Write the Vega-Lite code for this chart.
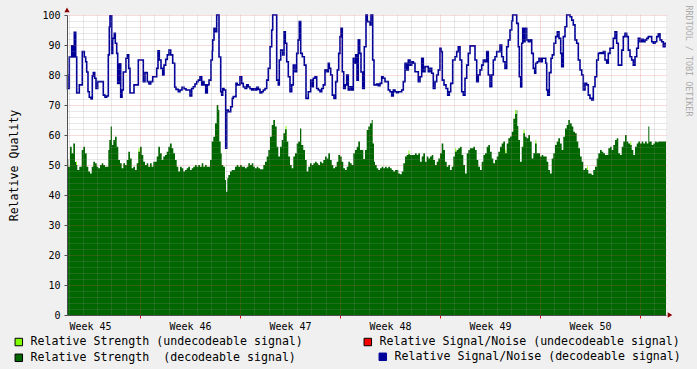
{
  "$schema": "https://vega.github.io/schema/vega-lite/v6.json",
  "width": 599,
  "height": 300,
  "autosize": {"type": "none"},
  "padding": {"left": 67, "top": 15, "right": 31, "bottom": 54},
  "background": "#f0f0f0",
  "config": {"view": {"fill": "white", "stroke": null}},
  "datasets": {
    "rsu": [
      {"week": 45.27, "strength": 0},
      {"week": 45.36, "strength": 51.2}, {"week": 45.37, "strength": 0},
      {"week": 45.985, "strength": 55.6}, {"week": 45.995, "strength": 0},
      {"week": 47.455, "strength": 63}, {"week": 47.465, "strength": 0},
      {"week": 48.685, "strength": 54.8}, {"week": 48.695, "strength": 0},
      {"week": 49.152, "strength": 55.6}, {"week": 49.162, "strength": 0},
      {"week": 49.652, "strength": 55.1}, {"week": 49.662, "strength": 0},
      {"week": 49.752, "strength": 68.3}, {"week": 49.762, "strength": 0},
      {"week": 49.835, "strength": 61.8}, {"week": 49.845, "strength": 0},
      {"week": 49.955, "strength": 58.4}, {"week": 49.963, "strength": 0},
      {"week": 50.47, "strength": 49.5}, {"week": 50.478, "strength": 0},
      {"week": 50.903, "strength": 57.9}, {"week": 50.912, "strength": 0},
      {"week": 51.26, "strength": 0}
    ],
    "rs": [
      {"week": 45.270, "strength": 51.9}, {"week": 45.283, "strength": 49.4}, {"week": 45.300, "strength": 56.1},
      {"week": 45.317, "strength": 53.9}, {"week": 45.333, "strength": 57.2}, {"week": 45.350, "strength": 51},
      {"week": 45.360, "strength": 50}, {"week": 45.373, "strength": 48.3}, {"week": 45.393, "strength": 49.4},
      {"week": 45.417, "strength": 55}, {"week": 45.433, "strength": 56.1}, {"week": 45.450, "strength": 53.9},
      {"week": 45.467, "strength": 49.4}, {"week": 45.483, "strength": 47.8}, {"week": 45.500, "strength": 47.2},
      {"week": 45.517, "strength": 49.4}, {"week": 45.533, "strength": 51.1}, {"week": 45.550, "strength": 50.6},
      {"week": 45.567, "strength": 49.4}, {"week": 45.583, "strength": 48.9}, {"week": 45.600, "strength": 50},
      {"week": 45.617, "strength": 50.6}, {"week": 45.633, "strength": 50}, {"week": 45.650, "strength": 49.4},
      {"week": 45.683, "strength": 55}, {"week": 45.693, "strength": 58.3}, {"week": 45.707, "strength": 62.8},
      {"week": 45.720, "strength": 56.7}, {"week": 45.733, "strength": 58.3}, {"week": 45.750, "strength": 59.4},
      {"week": 45.767, "strength": 56.1}, {"week": 45.783, "strength": 51.7}, {"week": 45.800, "strength": 50.6},
      {"week": 45.817, "strength": 48.9}, {"week": 45.833, "strength": 50.6}, {"week": 45.850, "strength": 50},
      {"week": 45.867, "strength": 51.7}, {"week": 45.883, "strength": 54.4}, {"week": 45.900, "strength": 52.2},
      {"week": 45.917, "strength": 48.9}, {"week": 45.933, "strength": 49.4}, {"week": 45.950, "strength": 48.3},
      {"week": 45.967, "strength": 50.6}, {"week": 45.983, "strength": 54.4}, {"week": 46.000, "strength": 56.1},
      {"week": 46.017, "strength": 53.3}, {"week": 46.033, "strength": 51.1}, {"week": 46.050, "strength": 50},
      {"week": 46.067, "strength": 50.6}, {"week": 46.083, "strength": 49.4}, {"week": 46.100, "strength": 50.6},
      {"week": 46.117, "strength": 49.4}, {"week": 46.133, "strength": 51.1}, {"week": 46.167, "strength": 52.8},
      {"week": 46.183, "strength": 56.1}, {"week": 46.200, "strength": 53.9}, {"week": 46.217, "strength": 51.7},
      {"week": 46.233, "strength": 52.8}, {"week": 46.250, "strength": 53.3}, {"week": 46.267, "strength": 54.4},
      {"week": 46.283, "strength": 56.1}, {"week": 46.300, "strength": 57.2}, {"week": 46.317, "strength": 55.6},
      {"week": 46.333, "strength": 53.9}, {"week": 46.350, "strength": 51.7}, {"week": 46.367, "strength": 49.4},
      {"week": 46.383, "strength": 47.8}, {"week": 46.400, "strength": 49.4}, {"week": 46.417, "strength": 48.9},
      {"week": 46.433, "strength": 47.8}, {"week": 46.450, "strength": 48.3}, {"week": 46.467, "strength": 48.9},
      {"week": 46.483, "strength": 49.4}, {"week": 46.500, "strength": 48.3}, {"week": 46.517, "strength": 48.9},
      {"week": 46.533, "strength": 49.4}, {"week": 46.550, "strength": 50}, {"week": 46.567, "strength": 49.4},
      {"week": 46.583, "strength": 50}, {"week": 46.600, "strength": 49.4}, {"week": 46.617, "strength": 50.6},
      {"week": 46.633, "strength": 49.4}, {"week": 46.650, "strength": 50}, {"week": 46.667, "strength": 49.4},
      {"week": 46.700, "strength": 51.7}, {"week": 46.717, "strength": 57.8}, {"week": 46.733, "strength": 59.4},
      {"week": 46.750, "strength": 63.9}, {"week": 46.767, "strength": 70}, {"week": 46.783, "strength": 68.3},
      {"week": 46.793, "strength": 57.8}, {"week": 46.807, "strength": 53.9}, {"week": 46.817, "strength": 50},
      {"week": 46.833, "strength": 49.4}, {"week": 46.850, "strength": 45}, {"week": 46.860, "strength": 41.1},
      {"week": 46.873, "strength": 45.6}, {"week": 46.883, "strength": 46.7}, {"week": 46.900, "strength": 47.8},
      {"week": 46.917, "strength": 48.3}, {"week": 46.950, "strength": 49.4}, {"week": 46.967, "strength": 50},
      {"week": 46.983, "strength": 49.4}, {"week": 47.000, "strength": 50}, {"week": 47.017, "strength": 49.4},
      {"week": 47.050, "strength": 48.9}, {"week": 47.067, "strength": 49.4}, {"week": 47.083, "strength": 50.6},
      {"week": 47.100, "strength": 50}, {"week": 47.117, "strength": 50.6}, {"week": 47.133, "strength": 49.4},
      {"week": 47.150, "strength": 48.9}, {"week": 47.167, "strength": 49.4}, {"week": 47.183, "strength": 48.9},
      {"week": 47.200, "strength": 48.6}, {"week": 47.233, "strength": 50}, {"week": 47.250, "strength": 51.1},
      {"week": 47.267, "strength": 52.8}, {"week": 47.283, "strength": 55}, {"week": 47.300, "strength": 59.4},
      {"week": 47.317, "strength": 63.3}, {"week": 47.333, "strength": 65}, {"week": 47.350, "strength": 62.8},
      {"week": 47.367, "strength": 56.1}, {"week": 47.383, "strength": 52.8}, {"week": 47.400, "strength": 56.1},
      {"week": 47.417, "strength": 58.3}, {"week": 47.433, "strength": 60.6}, {"week": 47.450, "strength": 61.9},
      {"week": 47.467, "strength": 57.8}, {"week": 47.483, "strength": 52.8}, {"week": 47.500, "strength": 50},
      {"week": 47.517, "strength": 48.9}, {"week": 47.533, "strength": 52.8}, {"week": 47.550, "strength": 53.9},
      {"week": 47.567, "strength": 57.2}, {"week": 47.583, "strength": 57.8}, {"week": 47.600, "strength": 62.2},
      {"week": 47.613, "strength": 56.7}, {"week": 47.633, "strength": 55}, {"week": 47.650, "strength": 51.7},
      {"week": 47.667, "strength": 47.8}, {"week": 47.683, "strength": 49.4}, {"week": 47.700, "strength": 50.6},
      {"week": 47.717, "strength": 50}, {"week": 47.733, "strength": 50.6}, {"week": 47.750, "strength": 51.1},
      {"week": 47.767, "strength": 50.6}, {"week": 47.783, "strength": 50}, {"week": 47.800, "strength": 51.1},
      {"week": 47.817, "strength": 50.6}, {"week": 47.833, "strength": 51.7}, {"week": 47.850, "strength": 52.8},
      {"week": 47.867, "strength": 52.2}, {"week": 47.883, "strength": 53.9}, {"week": 47.900, "strength": 51.7},
      {"week": 47.917, "strength": 50}, {"week": 47.933, "strength": 48.9}, {"week": 47.950, "strength": 49.4},
      {"week": 47.967, "strength": 51.1}, {"week": 47.983, "strength": 53.3}, {"week": 48.000, "strength": 52.8},
      {"week": 48.017, "strength": 51.1}, {"week": 48.033, "strength": 48.9}, {"week": 48.050, "strength": 48.3},
      {"week": 48.067, "strength": 49.4}, {"week": 48.083, "strength": 51.1}, {"week": 48.100, "strength": 50.6},
      {"week": 48.117, "strength": 50}, {"week": 48.133, "strength": 53.9}, {"week": 48.150, "strength": 55},
      {"week": 48.167, "strength": 56.1}, {"week": 48.183, "strength": 57.8}, {"week": 48.200, "strength": 55},
      {"week": 48.217, "strength": 55}, {"week": 48.233, "strength": 52}, {"week": 48.250, "strength": 55},
      {"week": 48.267, "strength": 61.7}, {"week": 48.283, "strength": 62.8}, {"week": 48.300, "strength": 63.9},
      {"week": 48.317, "strength": 65}, {"week": 48.327, "strength": 57.2}, {"week": 48.340, "strength": 51.1},
      {"week": 48.350, "strength": 50}, {"week": 48.367, "strength": 48.9}, {"week": 48.383, "strength": 48.3},
      {"week": 48.400, "strength": 48.9}, {"week": 48.417, "strength": 49.4}, {"week": 48.433, "strength": 48.9},
      {"week": 48.450, "strength": 49.4}, {"week": 48.467, "strength": 48.9}, {"week": 48.483, "strength": 49.4},
      {"week": 48.500, "strength": 48.9}, {"week": 48.517, "strength": 48.3}, {"week": 48.533, "strength": 47.8},
      {"week": 48.550, "strength": 48.3}, {"week": 48.583, "strength": 47.2}, {"week": 48.600, "strength": 46.9},
      {"week": 48.617, "strength": 47.8}, {"week": 48.633, "strength": 50.6}, {"week": 48.650, "strength": 52.8},
      {"week": 48.667, "strength": 53.3}, {"week": 48.683, "strength": 53.6}, {"week": 48.700, "strength": 53.3},
      {"week": 48.750, "strength": 53.9}, {"week": 48.767, "strength": 53.3}, {"week": 48.783, "strength": 53.9},
      {"week": 48.800, "strength": 51.1}, {"week": 48.817, "strength": 52.8}, {"week": 48.833, "strength": 53.9},
      {"week": 48.850, "strength": 51.1}, {"week": 48.867, "strength": 52.8}, {"week": 48.883, "strength": 52.2},
      {"week": 48.900, "strength": 52.8}, {"week": 48.917, "strength": 53.3}, {"week": 48.933, "strength": 51.7},
      {"week": 48.950, "strength": 50}, {"week": 48.967, "strength": 51.1}, {"week": 48.983, "strength": 52.2},
      {"week": 49.000, "strength": 53.9}, {"week": 49.017, "strength": 57.2}, {"week": 49.033, "strength": 55},
      {"week": 49.050, "strength": 51.1}, {"week": 49.067, "strength": 49.4}, {"week": 49.083, "strength": 50},
      {"week": 49.100, "strength": 48.3}, {"week": 49.117, "strength": 49.4}, {"week": 49.133, "strength": 52.8},
      {"week": 49.150, "strength": 54.4}, {"week": 49.167, "strength": 55}, {"week": 49.183, "strength": 55.6},
      {"week": 49.200, "strength": 56.1}, {"week": 49.217, "strength": 53.3}, {"week": 49.233, "strength": 50},
      {"week": 49.250, "strength": 47.2}, {"week": 49.267, "strength": 53.9}, {"week": 49.283, "strength": 55},
      {"week": 49.300, "strength": 55.6}, {"week": 49.333, "strength": 56.1}, {"week": 49.350, "strength": 55},
      {"week": 49.367, "strength": 51.7}, {"week": 49.383, "strength": 49.4}, {"week": 49.400, "strength": 48.3},
      {"week": 49.417, "strength": 51.1}, {"week": 49.433, "strength": 53.3}, {"week": 49.450, "strength": 53.9},
      {"week": 49.467, "strength": 56.1}, {"week": 49.483, "strength": 56.7}, {"week": 49.500, "strength": 54.4},
      {"week": 49.517, "strength": 52.2}, {"week": 49.533, "strength": 50.6}, {"week": 49.550, "strength": 51.7},
      {"week": 49.567, "strength": 52.8}, {"week": 49.583, "strength": 54.4}, {"week": 49.600, "strength": 56.1},
      {"week": 49.617, "strength": 57.2}, {"week": 49.633, "strength": 57.8}, {"week": 49.650, "strength": 53.9},
      {"week": 49.667, "strength": 57.2}, {"week": 49.683, "strength": 58.9}, {"week": 49.700, "strength": 59.5},
      {"week": 49.717, "strength": 61.1}, {"week": 49.733, "strength": 65.4}, {"week": 49.750, "strength": 67},
      {"week": 49.767, "strength": 68.3}, {"week": 49.773, "strength": 63}, {"week": 49.783, "strength": 58.3},
      {"week": 49.800, "strength": 51.1}, {"week": 49.817, "strength": 56.1}, {"week": 49.833, "strength": 60.6},
      {"week": 49.850, "strength": 59.4}, {"week": 49.867, "strength": 58.9}, {"week": 49.883, "strength": 60},
      {"week": 49.900, "strength": 57.8}, {"week": 49.917, "strength": 52.2}, {"week": 49.933, "strength": 53.9},
      {"week": 49.950, "strength": 57.2}, {"week": 49.967, "strength": 53.9}, {"week": 50.000, "strength": 52.8},
      {"week": 50.017, "strength": 53.3}, {"week": 50.033, "strength": 52.8}, {"week": 50.067, "strength": 51.1},
      {"week": 50.083, "strength": 48.3}, {"week": 50.100, "strength": 47.2}, {"week": 50.117, "strength": 52.2},
      {"week": 50.133, "strength": 53.9}, {"week": 50.150, "strength": 56.7}, {"week": 50.167, "strength": 57.8},
      {"week": 50.183, "strength": 58.9}, {"week": 50.200, "strength": 57.2}, {"week": 50.217, "strength": 55},
      {"week": 50.233, "strength": 59.4}, {"week": 50.250, "strength": 62.2}, {"week": 50.267, "strength": 63.3},
      {"week": 50.283, "strength": 65}, {"week": 50.300, "strength": 63.9}, {"week": 50.317, "strength": 62.8},
      {"week": 50.333, "strength": 61.1}, {"week": 50.350, "strength": 60.6}, {"week": 50.367, "strength": 57.8},
      {"week": 50.383, "strength": 55.6}, {"week": 50.400, "strength": 52.8}, {"week": 50.417, "strength": 51.1},
      {"week": 50.433, "strength": 48.3}, {"week": 50.450, "strength": 48.9}, {"week": 50.467, "strength": 48.3},
      {"week": 50.483, "strength": 47.2}, {"week": 50.517, "strength": 46.7}, {"week": 50.533, "strength": 48.3},
      {"week": 50.550, "strength": 49.4}, {"week": 50.567, "strength": 52.2}, {"week": 50.583, "strength": 53.9},
      {"week": 50.600, "strength": 55}, {"week": 50.617, "strength": 54.4}, {"week": 50.633, "strength": 53.9},
      {"week": 50.650, "strength": 53.3}, {"week": 50.683, "strength": 55.6}, {"week": 50.700, "strength": 56.1},
      {"week": 50.717, "strength": 55}, {"week": 50.733, "strength": 56.7}, {"week": 50.750, "strength": 58.3},
      {"week": 50.767, "strength": 58.9}, {"week": 50.783, "strength": 53.9}, {"week": 50.800, "strength": 53.3},
      {"week": 50.817, "strength": 56.1}, {"week": 50.833, "strength": 57.8}, {"week": 50.850, "strength": 60},
      {"week": 50.867, "strength": 57.8}, {"week": 50.883, "strength": 57.2}, {"week": 50.900, "strength": 56.7},
      {"week": 50.917, "strength": 55}, {"week": 50.933, "strength": 53.3}, {"week": 50.950, "strength": 56.1},
      {"week": 50.967, "strength": 57.2}, {"week": 50.983, "strength": 57.8}, {"week": 51.000, "strength": 57.2},
      {"week": 51.017, "strength": 57.8}, {"week": 51.033, "strength": 57.2}, {"week": 51.050, "strength": 57.8},
      {"week": 51.067, "strength": 57.2}, {"week": 51.083, "strength": 62.8}, {"week": 51.093, "strength": 57.8},
      {"week": 51.117, "strength": 56.7}, {"week": 51.133, "strength": 57.2}, {"week": 51.150, "strength": 57.8},
      {"week": 51.167, "strength": 57.6}, {"week": 51.183, "strength": 57.8}, {"week": 51.260, "strength": 57.6}
    ],
    "sn": [
      {"week": 45.270, "snr": 80}, {"week": 45.275, "snr": 75.5}, {"week": 45.293, "snr": 86},
      {"week": 45.317, "snr": 89.7}, {"week": 45.327, "snr": 86}, {"week": 45.343, "snr": 94.2},
      {"week": 45.357, "snr": 86}, {"week": 45.367, "snr": 74}, {"week": 45.393, "snr": 76.7},
      {"week": 45.423, "snr": 87.8}, {"week": 45.443, "snr": 86}, {"week": 45.457, "snr": 84.4},
      {"week": 45.467, "snr": 81}, {"week": 45.480, "snr": 74.4}, {"week": 45.493, "snr": 72.6},
      {"week": 45.510, "snr": 72}, {"week": 45.523, "snr": 79.7}, {"week": 45.533, "snr": 80.8},
      {"week": 45.547, "snr": 78.9}, {"week": 45.560, "snr": 75.5}, {"week": 45.577, "snr": 77.8},
      {"week": 45.633, "snr": 73.3}, {"week": 45.650, "snr": 72.6}, {"week": 45.667, "snr": 73},
      {"week": 45.683, "snr": 86.7}, {"week": 45.693, "snr": 96}, {"week": 45.700, "snr": 99.7},
      {"week": 45.717, "snr": 87.2}, {"week": 45.727, "snr": 92.2}, {"week": 45.743, "snr": 93.9},
      {"week": 45.753, "snr": 90.6}, {"week": 45.767, "snr": 87.2}, {"week": 45.777, "snr": 77.2},
      {"week": 45.793, "snr": 83.7}, {"week": 45.807, "snr": 72.6}, {"week": 45.820, "snr": 75},
      {"week": 45.833, "snr": 81}, {"week": 45.860, "snr": 85.6}, {"week": 45.873, "snr": 86.7},
      {"week": 45.887, "snr": 82.2}, {"week": 45.900, "snr": 74}, {"week": 45.940, "snr": 76.7},
      {"week": 45.983, "snr": 85}, {"week": 46.033, "snr": 77.8}, {"week": 46.050, "snr": 80.8},
      {"week": 46.073, "snr": 77.8}, {"week": 46.090, "snr": 77}, {"week": 46.107, "snr": 77.8},
      {"week": 46.127, "snr": 79.4}, {"week": 46.167, "snr": 82.2}, {"week": 46.180, "snr": 88.1},
      {"week": 46.193, "snr": 85}, {"week": 46.210, "snr": 82.2}, {"week": 46.227, "snr": 80},
      {"week": 46.240, "snr": 83.3}, {"week": 46.257, "snr": 85.2}, {"week": 46.273, "snr": 86.7},
      {"week": 46.290, "snr": 88.3}, {"week": 46.307, "snr": 86.7}, {"week": 46.327, "snr": 83.9},
      {"week": 46.347, "snr": 75.9}, {"week": 46.360, "snr": 75.2}, {"week": 46.383, "snr": 74.4},
      {"week": 46.400, "snr": 75}, {"week": 46.420, "snr": 75.9}, {"week": 46.440, "snr": 75.4},
      {"week": 46.460, "snr": 75}, {"week": 46.500, "snr": 73}, {"week": 46.517, "snr": 75.5},
      {"week": 46.533, "snr": 76.1}, {"week": 46.550, "snr": 77}, {"week": 46.567, "snr": 77.8},
      {"week": 46.583, "snr": 78.3}, {"week": 46.600, "snr": 79.4}, {"week": 46.617, "snr": 76.7},
      {"week": 46.627, "snr": 77.8}, {"week": 46.640, "snr": 76.7}, {"week": 46.657, "snr": 74},
      {"week": 46.673, "snr": 76.7}, {"week": 46.690, "snr": 78.3}, {"week": 46.710, "snr": 85},
      {"week": 46.723, "snr": 88}, {"week": 46.727, "snr": 91.7}, {"week": 46.740, "snr": 95.6},
      {"week": 46.750, "snr": 94.4}, {"week": 46.767, "snr": 100}, {"week": 46.790, "snr": 86},
      {"week": 46.807, "snr": 74.4}, {"week": 46.817, "snr": 73.3}, {"week": 46.827, "snr": 75.5},
      {"week": 46.840, "snr": 75}, {"week": 46.857, "snr": 55.6}, {"week": 46.867, "snr": 68.3},
      {"week": 46.883, "snr": 67.8}, {"week": 46.907, "snr": 69.4}, {"week": 46.923, "snr": 72.2},
      {"week": 46.933, "snr": 72.8}, {"week": 46.960, "snr": 77.2}, {"week": 46.973, "snr": 76.7},
      {"week": 47.000, "snr": 79.4}, {"week": 47.017, "snr": 77.2}, {"week": 47.033, "snr": 76},
      {"week": 47.050, "snr": 75.5}, {"week": 47.067, "snr": 76.7}, {"week": 47.083, "snr": 76},
      {"week": 47.100, "snr": 75.4}, {"week": 47.117, "snr": 75}, {"week": 47.133, "snr": 75.4},
      {"week": 47.150, "snr": 75}, {"week": 47.167, "snr": 75.9}, {"week": 47.183, "snr": 75.2},
      {"week": 47.200, "snr": 74}, {"week": 47.217, "snr": 74.4}, {"week": 47.233, "snr": 75},
      {"week": 47.250, "snr": 75.5}, {"week": 47.267, "snr": 78.3}, {"week": 47.283, "snr": 82.2},
      {"week": 47.300, "snr": 89.4}, {"week": 47.317, "snr": 95}, {"week": 47.327, "snr": 100},
      {"week": 47.367, "snr": 78.3}, {"week": 47.383, "snr": 76.7}, {"week": 47.393, "snr": 85},
      {"week": 47.407, "snr": 88.3}, {"week": 47.427, "snr": 86.7}, {"week": 47.440, "snr": 94.4},
      {"week": 47.453, "snr": 90.6}, {"week": 47.467, "snr": 84.4}, {"week": 47.483, "snr": 79.4},
      {"week": 47.500, "snr": 74.4}, {"week": 47.517, "snr": 76.7}, {"week": 47.533, "snr": 83.3},
      {"week": 47.550, "snr": 81.1}, {"week": 47.567, "snr": 87.2}, {"week": 47.580, "snr": 91.7},
      {"week": 47.593, "snr": 97.8}, {"week": 47.607, "snr": 87.2}, {"week": 47.623, "snr": 86.1},
      {"week": 47.643, "snr": 83.3}, {"week": 47.660, "snr": 72.2}, {"week": 47.683, "snr": 74.4},
      {"week": 47.707, "snr": 78.3}, {"week": 47.720, "snr": 76.1}, {"week": 47.733, "snr": 78.9},
      {"week": 47.750, "snr": 79.4}, {"week": 47.767, "snr": 75.5}, {"week": 47.783, "snr": 75},
      {"week": 47.800, "snr": 74.4}, {"week": 47.817, "snr": 75.5}, {"week": 47.833, "snr": 76.7},
      {"week": 47.850, "snr": 81.7}, {"week": 47.867, "snr": 81.1}, {"week": 47.883, "snr": 83.9},
      {"week": 47.893, "snr": 82.2}, {"week": 47.907, "snr": 80}, {"week": 47.923, "snr": 73.3},
      {"week": 47.940, "snr": 72.2}, {"week": 47.957, "snr": 77.8}, {"week": 47.973, "snr": 81.7},
      {"week": 47.987, "snr": 87.2}, {"week": 48.000, "snr": 92.8}, {"week": 48.010, "snr": 95.6},
      {"week": 48.023, "snr": 81.1}, {"week": 48.037, "snr": 75.5}, {"week": 48.053, "snr": 76.7},
      {"week": 48.067, "snr": 80}, {"week": 48.083, "snr": 75}, {"week": 48.100, "snr": 76.1},
      {"week": 48.117, "snr": 75}, {"week": 48.133, "snr": 85.6}, {"week": 48.147, "snr": 83.9},
      {"week": 48.157, "snr": 86.7}, {"week": 48.170, "snr": 78.3}, {"week": 48.183, "snr": 91.7},
      {"week": 48.197, "snr": 87.2}, {"week": 48.210, "snr": 81}, {"week": 48.227, "snr": 75.5},
      {"week": 48.243, "snr": 89.4}, {"week": 48.260, "snr": 100}, {"week": 48.273, "snr": 97.8},
      {"week": 48.300, "snr": 96.7}, {"week": 48.310, "snr": 100}, {"week": 48.327, "snr": 85},
      {"week": 48.340, "snr": 76.7}, {"week": 48.367, "snr": 77}, {"week": 48.383, "snr": 76.4},
      {"week": 48.400, "snr": 77.2}, {"week": 48.417, "snr": 79.4}, {"week": 48.433, "snr": 78.9},
      {"week": 48.450, "snr": 77.8}, {"week": 48.483, "snr": 75}, {"week": 48.500, "snr": 74.4},
      {"week": 48.517, "snr": 73}, {"week": 48.533, "snr": 75}, {"week": 48.550, "snr": 74.4},
      {"week": 48.567, "snr": 74.1}, {"week": 48.583, "snr": 74.4}, {"week": 48.617, "snr": 75},
      {"week": 48.633, "snr": 77.8}, {"week": 48.650, "snr": 83.9}, {"week": 48.667, "snr": 81.7},
      {"week": 48.683, "snr": 85}, {"week": 48.700, "snr": 83.3}, {"week": 48.717, "snr": 84.4},
      {"week": 48.733, "snr": 83.9}, {"week": 48.750, "snr": 81.1}, {"week": 48.783, "snr": 77.8},
      {"week": 48.800, "snr": 79.4}, {"week": 48.817, "snr": 85.6}, {"week": 48.833, "snr": 81.1},
      {"week": 48.850, "snr": 82.8}, {"week": 48.883, "snr": 81.1}, {"week": 48.900, "snr": 82.2},
      {"week": 48.917, "snr": 80.6}, {"week": 48.933, "snr": 75.5}, {"week": 48.950, "snr": 77.8},
      {"week": 48.967, "snr": 80}, {"week": 48.983, "snr": 81.7}, {"week": 49.000, "snr": 88.9},
      {"week": 49.010, "snr": 87.8}, {"week": 49.023, "snr": 78.3}, {"week": 49.040, "snr": 76.7},
      {"week": 49.060, "snr": 75.5}, {"week": 49.077, "snr": 73.3}, {"week": 49.093, "snr": 74.4},
      {"week": 49.107, "snr": 77.2}, {"week": 49.127, "snr": 85}, {"week": 49.150, "snr": 86.1},
      {"week": 49.167, "snr": 87.8}, {"week": 49.183, "snr": 89.4}, {"week": 49.200, "snr": 85},
      {"week": 49.217, "snr": 74.4}, {"week": 49.233, "snr": 73.3}, {"week": 49.250, "snr": 78.9},
      {"week": 49.267, "snr": 83.3}, {"week": 49.283, "snr": 87.2}, {"week": 49.300, "snr": 89.7},
      {"week": 49.350, "snr": 85}, {"week": 49.367, "snr": 77.8}, {"week": 49.383, "snr": 80},
      {"week": 49.400, "snr": 81.7}, {"week": 49.417, "snr": 83.3}, {"week": 49.433, "snr": 85},
      {"week": 49.450, "snr": 84.4}, {"week": 49.467, "snr": 87.8}, {"week": 49.483, "snr": 80},
      {"week": 49.500, "snr": 76.1}, {"week": 49.517, "snr": 80}, {"week": 49.533, "snr": 85},
      {"week": 49.550, "snr": 86.1}, {"week": 49.567, "snr": 87.8}, {"week": 49.600, "snr": 90},
      {"week": 49.617, "snr": 86.1}, {"week": 49.633, "snr": 84.4}, {"week": 49.650, "snr": 82.2},
      {"week": 49.667, "snr": 89.4}, {"week": 49.683, "snr": 91.7}, {"week": 49.700, "snr": 95},
      {"week": 49.717, "snr": 98}, {"week": 49.727, "snr": 100}, {"week": 49.767, "snr": 97.2},
      {"week": 49.783, "snr": 89.4}, {"week": 49.793, "snr": 79.4}, {"week": 49.807, "snr": 76},
      {"week": 49.817, "snr": 90.6}, {"week": 49.827, "snr": 95.6}, {"week": 49.840, "snr": 91.1},
      {"week": 49.850, "snr": 95.6}, {"week": 49.867, "snr": 91.7}, {"week": 49.883, "snr": 91.1},
      {"week": 49.900, "snr": 91.7}, {"week": 49.917, "snr": 87.2}, {"week": 49.933, "snr": 82.2},
      {"week": 49.947, "snr": 80.6}, {"week": 49.957, "snr": 83.9}, {"week": 49.973, "snr": 84.4},
      {"week": 49.990, "snr": 85.6}, {"week": 50.007, "snr": 84.4}, {"week": 50.023, "snr": 85.6},
      {"week": 50.057, "snr": 83.9}, {"week": 50.067, "snr": 75}, {"week": 50.077, "snr": 73.3},
      {"week": 50.093, "snr": 80.8}, {"week": 50.110, "snr": 85.6}, {"week": 50.123, "snr": 86.7},
      {"week": 50.140, "snr": 90.6}, {"week": 50.157, "snr": 92.8}, {"week": 50.173, "snr": 94.4},
      {"week": 50.190, "snr": 92.2}, {"week": 50.207, "snr": 87.2}, {"week": 50.217, "snr": 82.8},
      {"week": 50.233, "snr": 92.8}, {"week": 50.250, "snr": 96.1}, {"week": 50.267, "snr": 100},
      {"week": 50.300, "snr": 99.4}, {"week": 50.317, "snr": 98.3}, {"week": 50.333, "snr": 96.7},
      {"week": 50.350, "snr": 91.7}, {"week": 50.367, "snr": 90.6}, {"week": 50.383, "snr": 85},
      {"week": 50.400, "snr": 81.7}, {"week": 50.417, "snr": 80}, {"week": 50.433, "snr": 75},
      {"week": 50.450, "snr": 77.2}, {"week": 50.467, "snr": 76.7}, {"week": 50.483, "snr": 73.3},
      {"week": 50.500, "snr": 72.2}, {"week": 50.517, "snr": 71.7}, {"week": 50.533, "snr": 76.1},
      {"week": 50.550, "snr": 79.4}, {"week": 50.567, "snr": 85}, {"week": 50.583, "snr": 87.2},
      {"week": 50.600, "snr": 87.4}, {"week": 50.617, "snr": 87.2}, {"week": 50.633, "snr": 87.8},
      {"week": 50.650, "snr": 85}, {"week": 50.667, "snr": 83.9}, {"week": 50.683, "snr": 87.2},
      {"week": 50.700, "snr": 88.9}, {"week": 50.733, "snr": 92.2}, {"week": 50.750, "snr": 94.4},
      {"week": 50.767, "snr": 90.6}, {"week": 50.783, "snr": 83.3}, {"week": 50.817, "snr": 88.3},
      {"week": 50.833, "snr": 92.8}, {"week": 50.850, "snr": 93.9}, {"week": 50.867, "snr": 92.8},
      {"week": 50.883, "snr": 88.3}, {"week": 50.900, "snr": 86.1}, {"week": 50.917, "snr": 85},
      {"week": 50.933, "snr": 83.3}, {"week": 50.950, "snr": 86.1}, {"week": 50.967, "snr": 88.9},
      {"week": 50.983, "snr": 92.2}, {"week": 51.000, "snr": 91.1}, {"week": 51.017, "snr": 91.9},
      {"week": 51.033, "snr": 91.1}, {"week": 51.050, "snr": 91.7}, {"week": 51.067, "snr": 92.2},
      {"week": 51.083, "snr": 92.8}, {"week": 51.117, "snr": 91.1}, {"week": 51.133, "snr": 90.6},
      {"week": 51.150, "snr": 91.1}, {"week": 51.167, "snr": 92.8}, {"week": 51.183, "snr": 93.7},
      {"week": 51.200, "snr": 91.7}, {"week": 51.217, "snr": 91.1}, {"week": 51.233, "snr": 89.4},
      {"week": 51.250, "snr": 90.6}, {"week": 51.260, "snr": 90.6}
    ]
  },
  "resolve": {"axis": {"x": "independent", "y": "independent"}, "legend": {"color": "independent"}},
  "layer": [
    {
      "data": {"name": "rsu"},
      "mark": {"type": "area", "interpolate": "step-after", "opacity": 1},
      "encoding": {
        "x": {"field": "week", "type": "quantitative", "scale": {"domain": [45.27, 51.26], "nice": false, "zero": false}, "axis": null},
        "y": {"field": "strength", "type": "quantitative", "scale": {"domain": [0, 100], "nice": false},
          "axis": {"orient": "right", "title": "RRDTOOL / TOBI OETIKER", "labels": false, "ticks": false, "domain": false, "grid": false,
            "titleFont": "DejaVu Sans Mono", "titleFontSize": 8.4, "titleFontWeight": "normal", "titleColor": "#ababab",
            "titleAngle": 90, "titleX": 22, "titleY": -10, "titleAlign": "left", "titleBaseline": "middle"}},
        "color": {"datum": "Relative Strength (undecodeable signal)", "type": "nominal",
          "scale": {"domain": ["Relative Strength (undecodeable signal)", "Relative Strength \u00a0(decodeable signal)", "Relative Signal/Noise (undecodeable signal)"],
                    "range": ["#80ff00", "#006600", "#ff0000"]},
          "legend": {
            "title": null, "orient": "none", "legendX": -54, "legendY": 321, "columns": 2,
            "symbolType": "square", "symbolSize": 56, "symbolStrokeColor": "#000000", "symbolStrokeWidth": 1, "symbolOpacity": 1,
            "labelFont": "DejaVu Sans Mono", "labelFontSize": 11.6, "labelColor": "#000000", "labelLimit": 0, "labelOffset": 6,
            "columnPadding": 59, "rowPadding": 3, "padding": 0,
            "encode": {"symbols": {"update": {"stroke": {"value": "#000000"}, "strokeWidth": {"value": 1}, "opacity": {"value": 1}}}}
          }}
      }
    },
    {
      "data": {"name": "rs"},
      "mark": {"type": "area", "interpolate": "step-after", "opacity": 1},
      "encoding": {
        "x": {"field": "week", "type": "quantitative", "scale": {"domain": [45.27, 51.26], "nice": false, "zero": false},
          "axis": {
            "values": [45.2857, 45.4286, 45.5, 45.5714, 45.7143, 45.8571, 46, 46.1429, 46.2857, 46.4286, 46.5, 46.5714, 46.7143, 46.8571, 47, 47.1429, 47.2857, 47.4286, 47.5, 47.5714, 47.7143, 47.8571, 48, 48.1429, 48.2857, 48.4286, 48.5, 48.5714, 48.7143, 48.8571, 49, 49.1429, 49.2857, 49.4286, 49.5, 49.5714, 49.7143, 49.8571, 50, 50.1429, 50.2857, 50.4286, 50.5, 50.5714, 50.7143, 50.8571, 51, 51.1429],
            "labelExpr": "abs(datum.value % 1 - 0.5) < 0.001 ? 'Week ' + floor(datum.value) : ''",
            "labelFont": "DejaVu Sans Mono", "labelFontSize": 10, "labelColor": "#000000",
            "labelPadding": 3, "labelOverlap": false, "labelFlush": false, "labelBound": false,
            "tickSize": 3,
            "tickColor": {"condition": {"test": "datum.value % 1 == 0", "value": "#de0000"}, "value": "#8f8f8f"},
            "tickOpacity": {"condition": {"test": "datum.value % 1 == 0", "value": 1}, "value": 0},
            "grid": true,
            "gridColor": {"condition": {"test": "datum.value % 1 == 0", "value": "#e05050"}, "value": "#8f8f8f"},
            "gridOpacity": {"condition": {"test": "abs(datum.value % 1 - 0.5) < 0.001", "value": 0}, "value": 0.42},
            "gridDash": [1, 1],
            "domainColor": "#505050",
            "title": null,
            "zindex": 1
          }},
        "y": {"field": "strength", "type": "quantitative", "scale": {"domain": [0, 100], "nice": false},
          "axis": {
            "values": [0, 2, 4, 6, 8, 10, 12, 14, 16, 18, 20, 22, 24, 26, 28, 30, 32, 34, 36, 38, 40, 42, 44, 46, 48, 50, 52, 54, 56, 58, 60, 62, 64, 66, 68, 70, 72, 74, 76, 78, 80, 82, 84, 86, 88, 90, 92, 94, 96, 98, 100],
            "labelExpr": "datum.value % 10 == 0 ? '' + datum.value : ''",
            "labelFont": "DejaVu Sans Mono", "labelFontSize": 10, "labelColor": "#000000",
            "labelPadding": 4, "labelOverlap": false, "labelFlush": false, "labelBound": false,
            "tickSize": 3, "tickColor": "#505050",
            "tickOpacity": {"condition": {"test": "datum.value % 10 == 0", "value": 1}, "value": 0},
            "grid": true,
            "gridColor": {"condition": {"test": "datum.value % 10 == 0", "value": "#e05050"}, "value": "#8f8f8f"},
            "gridOpacity": 0.42,
            "gridDash": [1, 1],
            "domainColor": "#505050",
            "title": "Relative Quality",
            "titleFont": "DejaVu Sans Mono", "titleFontSize": 11.6, "titleFontWeight": "normal", "titleColor": "#000000",
            "titlePadding": 22,
            "zindex": 1
          }},
        "color": {"datum": "Relative Strength \u00a0(decodeable signal)", "type": "nominal",
          "scale": {"domain": ["Relative Strength (undecodeable signal)", "Relative Strength \u00a0(decodeable signal)", "Relative Signal/Noise (undecodeable signal)"],
                    "range": ["#80ff00", "#006600", "#ff0000"]},
          "legend": null}
      }
    },
    {
      "data": {"name": "sn"},
      "mark": {"type": "line", "interpolate": "step-after", "strokeWidth": 1.6},
      "encoding": {
        "x": {"field": "week", "type": "quantitative", "scale": {"domain": [45.27, 51.26], "nice": false, "zero": false}, "axis": null},
        "y": {"field": "snr", "type": "quantitative", "scale": {"domain": [0, 100], "nice": false}, "axis": null},
        "stroke": {"datum": "Relative Signal/Noise (decodeable signal)", "type": "nominal",
          "scale": {"domain": ["Relative Signal/Noise (decodeable signal)"], "range": ["#000099"]},
          "legend": {
            "title": null, "orient": "none", "legendX": 310, "legendY": 336,
            "symbolType": "square", "symbolSize": 56, "symbolStrokeColor": "#000000", "symbolStrokeWidth": 1, "symbolOpacity": 1,
            "symbolFillColor": "#000099",
            "labelFont": "DejaVu Sans Mono", "labelFontSize": 11.6, "labelColor": "#000000", "labelLimit": 0, "labelOffset": 6,
            "padding": 0,
            "encode": {"symbols": {"update": {"fill": {"value": "#000099"}, "stroke": {"value": "#000000"}, "strokeWidth": {"value": 1}, "opacity": {"value": 1}}}}
          }}
      }
    },
    {
      "data": {"values": [{}]},
      "mark": {"type": "point", "shape": "triangle-right", "filled": true, "size": 28, "color": "#8b0000", "opacity": 1, "clip": false},
      "encoding": {
        "x": {"datum": 51.3, "type": "quantitative", "axis": null},
        "y": {"datum": 0, "type": "quantitative", "axis": null}
      }
    },
    {
      "data": {"values": [{}]},
      "mark": {"type": "point", "shape": "triangle-up", "filled": true, "size": 28, "color": "#8b0000", "opacity": 1, "clip": false},
      "encoding": {
        "x": {"datum": 45.27, "type": "quantitative", "axis": null},
        "y": {"datum": 101.7, "type": "quantitative", "axis": null}
      }
    }
  ]
}
